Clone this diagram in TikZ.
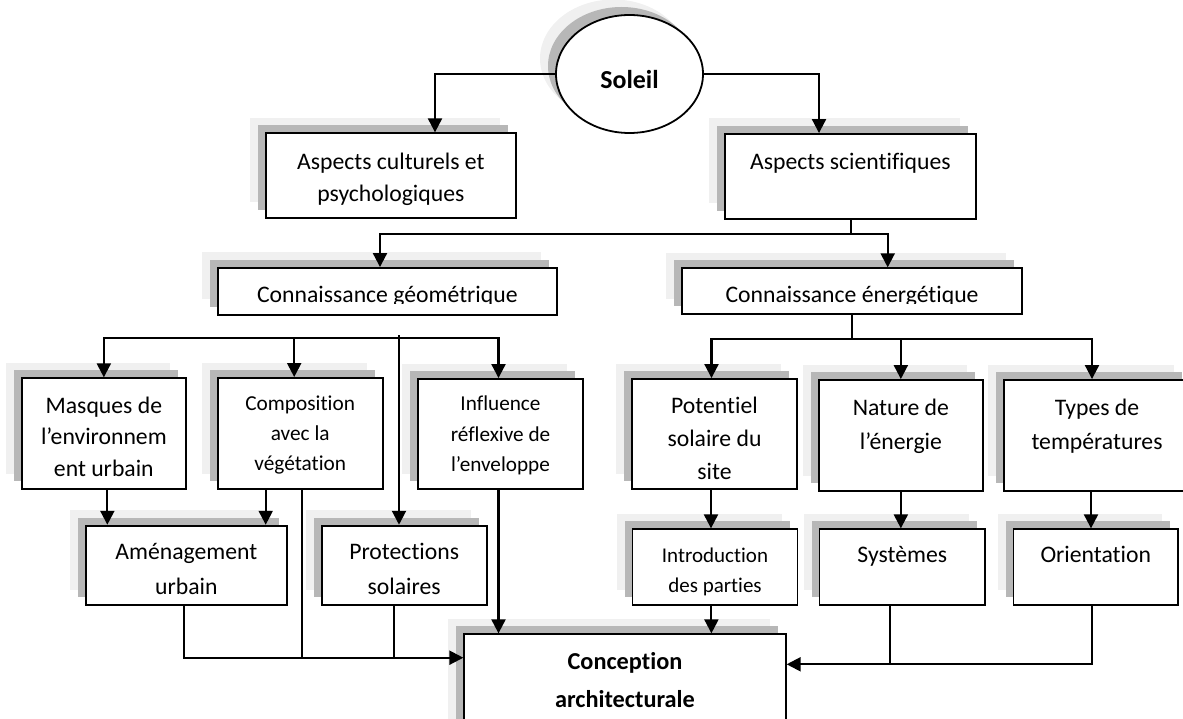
\documentclass[tikz,border=0pt]{standalone}
\usepackage{fontspec}
\setmainfont{Carlito}[Ligatures=NoCommon]
\usetikzlibrary{shapes.geometric,arrows.meta,shadows}
\definecolor{shl}{RGB}{240,240,240}
\definecolor{shd}{RGB}{183,183,183}
\newcommand\topfix{\rule{0pt}{22pt}}
\begin{document}
\begin{tikzpicture}[x=1pt,y=-1pt,
  shad/.style={general shadow={fill=shl,draw=none,shadow xshift=-16pt,shadow yshift=15.5pt},
               general shadow={fill=shd,draw=none,shadow xshift=-8pt,shadow yshift=8pt}},
  bx/.style 2 args={shad,draw,line width=1.9pt,fill=white,inner sep=0pt,minimum width=#1pt,minimum height=#2pt},
  tx/.style 2 args={font=\fontsize{#1}{#2}\selectfont,align=center,anchor=north,inner sep=0pt},
  ln/.style={line width=2.1pt},
  arr/.style={ln,-{Triangle[length=14pt,width=14pt]}}]
\useasboundingbox (0,0) rectangle (1183,719);

% ---- boxes ----
\node[shad,draw,line width=1.8pt,fill=white,ellipse,inner sep=0pt,minimum width=147pt,minimum height=118pt] (sol) at (629.5,74) {};
\node[font=\fontsize{25.9}{30}\selectfont\bfseries,anchor=base,inner sep=0pt] (sol-t) at ([yshift=-15pt]sol.center) {Soleil};

\node[bx={250.3}{84.4}] (asc) at (390.85,175.5) {};
\node[bx={250.7}{85}] (asci) at (850.35,176.5) {};
\node[bx={339.3}{46.7}] (cg) at (387.35,291.35) {};
\node[bx={339.4}{46}] (ce) at (852,291.3) {};
\node[bx={164.3}{110.7}] (mas) at (103.85,433.65) {};
\node[bx={165}{111}] (comp) at (300.2,433.5) {};
\node[bx={164.4}{110}] (infl) at (500.5,434) {};
\node[bx={164.4}{110}] (pot) at (714.5,434) {};
\node[bx={163.7}{111}] (nat) at (900.85,435.5) {};
\node[bx={186}{111}] (typ) at (1097,435.5) {};
\node[bx={200.7}{79.3}] (ame) at (186.35,565.35) {};
\node[bx={165}{79.3}] (prot) at (404.2,565.35) {};
\node[bx={165}{75.7}] (intro) at (715,567.15) {};
\node[bx={165.5}{75.7}] (sys) at (902.25,567.15) {};
\node[bx={164.5}{75.7}] (ori) at (1095.75,567.15) {};
\node[bx={321.4}{105.7}] (conc) at (625,687.15) {};

% ---- texts ----
\node[tx={23.7}{32}] (asc-t) at ([yshift=-14.7pt]asc.north) {\topfix Aspects culturels et\\psychologiques};
\node[tx={23.7}{32}] (asci-t) at ([yshift=-14pt]asci.north) {\topfix Aspects scientifiques};
\begin{scope}
\clip ([xshift=-2pt]cg.north west) rectangle ([yshift=12.2pt]cg.south east);
\node[tx={23.7}{32}] (cg-t) at ([yshift=-13.5pt]cg.north) {\topfix Connaissance géométrique};
\end{scope}
\begin{scope}
\clip ([xshift=-2pt]ce.north west) rectangle ([yshift=12pt]ce.south east);
\node[tx={23.7}{32}] (ce-t) at ([yshift=-12.7pt]ce.north) {\topfix Connaissance énergétique};
\end{scope}
\node[tx={23.7}{31.5}] (mas-t) at ([yshift=-13.5pt]mas.north) {\topfix Masques de\\l’environnem\\ent urbain};
\node[tx={21.3}{30}] (comp-t) at ([yshift=-11.2pt]comp.north) {\topfix Composition\\avec la\\végétation};
\node[tx={21.2}{30.5}] (infl-t) at ([yshift=-10.5pt]infl.north) {\topfix Influence\\réflexive de\\l’enveloppe};
\node[tx={23.7}{33}] (pot-t) at ([yshift=-12.8pt]pot.north) {\topfix Potentiel\\solaire du\\site};
\node[tx={23.7}{33.7}] (nat-t) at ([yshift=-14.5pt]nat.north) {\topfix Nature de\\l’énergie};
\node[tx={23.7}{33.7}] (typ-t) at ([yshift=-14.5pt]typ.north) {\topfix Types de\\températures};
\node[tx={23.7}{34.3}] (ame-t) at ([yshift=-12.8pt]ame.north) {\topfix Aménagement\\urbain};
\node[tx={23.7}{34.3}] (prot-t) at ([yshift=-12.8pt]prot.north) {\topfix Protections\\solaires};
\node[tx={21}{30}] (intro-t) at ([yshift=-11.8pt]intro.north) {\topfix Introduction\\des parties};
\node[tx={23.7}{32}] (sys-t) at ([yshift=-12.4pt]sys.north) {\topfix Systèmes};
\node[tx={23.7}{32}] (ori-t) at ([yshift=-12.4pt]ori.north) {\topfix Orientation};
\node[tx={24.3}{38.3},font=\fontsize{24.3}{38.3}\selectfont\bfseries] (conc-t) at ([yshift=-14pt]conc.north) {\topfix Conception\\architecturale};

% ---- connectors ----
\draw[arr] (sol.west) -| ([xshift=44.15pt]asc.north);
\draw[arr] (sol.east) -| ([xshift=-31.35pt]asci.north);

\coordinate (s0) at ([xshift=0.65pt]asci.south);
\draw[ln] (s0) -- ++(0,14) coordinate (sj);
\draw[arr] (sj) -| ([xshift=-7.35pt]cg.north);
\draw[arr] (sj) -| ([xshift=35.7pt]ce.north);

\coordinate (gb) at (399,338);
\draw[arr] (gb) -| (mas.north);
\draw[arr] (gb) -| ([xshift=-6pt]comp.north);
\draw[arr] (gb) -| ([xshift=-2pt]infl.north);
\draw[arr] ([yshift=3pt]gb) -- (gb |- prot.north);

\draw[ln] (ce.south) -- ++(0,23.7) coordinate (eb);
\draw[arr] (eb) -| ([xshift=-3pt]pot.north);
\draw[arr] (eb) -| (nat.north);
\draw[arr] (eb) -| ([xshift=-5pt]typ.north);

\coordinate (m1) at ([xshift=3.5pt]mas.south);
\draw[arr] (m1) -- (m1 |- ame.north);
\coordinate (c1) at ([xshift=-34.5pt]comp.south);
\draw[arr] (c1) -- (c1 |- ame.north);

\coordinate (bl) at ([yshift=29.45pt]conc.west);
\draw[arr] ([xshift=-2pt]ame.south) |- (bl);
\coordinate (c2) at ([xshift=2.1pt]comp.south);
\draw[ln] (c2) -- (c2 |- bl);
\coordinate (p1) at ([xshift=-9.9pt]prot.south);
\draw[ln] (p1) -- (p1 |- bl);
\coordinate (i1) at ([xshift=-2pt]infl.south);
\draw[arr] (i1) -- (i1 |- conc.north);

\coordinate (o1) at ([xshift=-3.5pt]pot.south);
\draw[arr] (o1) -- (o1 |- intro.north);
\coordinate (n1) at ([xshift=-3.6pt]intro.south);
\draw[arr] (n1) -- (n1 |- conc.north);
\draw[arr] (nat.south) -- (nat.south |- sys.north);
\coordinate (t1) at ([xshift=-6pt]typ.south);
\draw[arr] (t1) -- (t1 |- ori.north);

\coordinate (br) at ([yshift=22.85pt]conc.east);
\draw[arr] ([xshift=-4pt]ori.south) |- (br);
\coordinate (y1) at ([xshift=-11.85pt]sys.south);
\draw[ln] (y1) -- (y1 |- br);
\end{tikzpicture}
\end{document}
